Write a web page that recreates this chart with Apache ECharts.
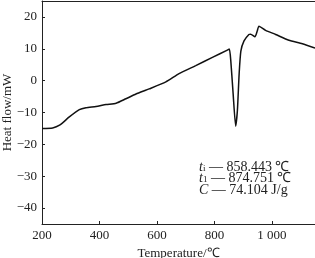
<!DOCTYPE html>
<html>
<head>
<meta charset="utf-8">
<script src="https://cdn.jsdelivr.net/npm/echarts@6/dist/echarts.min.js"></script>
<style>html,body{margin:0;padding:0;background:#fff;}#c{width:315px;height:258px;}</style>
</head>
<body>
<div id="c"></div>
<script>
var temps = [200, 237, 261, 295, 330, 353, 388, 423, 458, 492, 527, 573, 631, 677, 735, 793, 845, 852, 857, 865, 874, 880, 886, 892, 903, 920, 926, 941, 949, 955, 978, 1013, 1059, 1106, 1150];
var heatFlow = [-15, -14.85, -14.0, -11.4, -9.1, -8.5, -8.1, -7.5, -7.1, -5.7, -4.2, -2.6, -0.4, 2.2, 4.7, 7.3, 9.6, 9.9, 6.2, -4, -14.3, -9.3, 2.1, 9.3, 12.5, 14.5, 14.6, 13.8, 15.6, 17.1, 15.8, 14.5, 12.7, 11.6, 10.2];
var xTicks = [200, 400, 600, 800, 1000];
var yTicks = [-40, -30, -20, -10, 0, 10, 20];
var notes = [
  ['t', 'i', '858.443 ℃'],
  ['t', '1', '874.751 ℃'],
  ['C', '', '74.104 J/g']
];

var pts = temps.map(function (t, i) { return [t, heatFlow[i]]; });
var font = 'Liberation Serif';
var noteText = notes.map(function (n) {
  return '{it|' + n[0] + '}' + (n[1] ? '{sub|' + n[1] + '}' : '') + '{n| — ' + n[2] + '}';
}).join('\n');

var chart = echarts.init(document.getElementById('c'));
chart.setOption({
  animation: false,
  backgroundColor: '#fff',
  grid: { left: 42, right: 0, top: 1, bottom: 34, containLabel: false, outerBoundsMode: 'none' },
  xAxis: [{
    type: 'value', min: 200, max: 1150, interval: 200,
    name: 'Temperature/℃', nameLocation: 'middle', nameGap: 20,
    nameTextStyle: { fontFamily: font, fontSize: 13, color: '#222' },
    axisLine: { show: true, onZero: false, lineStyle: { color: '#222', width: 1 } },
    axisTick: { show: true, inside: true, length: 3, lineStyle: { color: '#222' } },
    axisLabel: {
      fontFamily: font, fontSize: 13, color: '#222', margin: 5,
      showMaxLabel: false,
      formatter: function (v) { return xTicks.indexOf(v) < 0 ? '' : (v >= 1000 ? '1 000' : String(v)); }
    },
    splitLine: { show: false }
  }, {
    type: 'value', position: 'top', min: 200, max: 1150,
    axisLine: { show: true, onZero: false, lineStyle: { color: '#222', width: 1 } },
    axisTick: { show: false }, axisLabel: { show: false }, splitLine: { show: false }
  }],
  yAxis: {
    type: 'value', min: -45, max: 25, splitNumber: 7,
    name: 'Heat flow/mW', nameLocation: 'middle', nameGap: 28, nameMoveOverlap: false,
    nameTextStyle: { fontFamily: font, fontSize: 13, color: '#222' },
    axisLine: { show: true, onZero: false, lineStyle: { color: '#222', width: 1 } },
    axisTick: { show: true, inside: true, length: 3, lineStyle: { color: '#222' } },
    axisLabel: {
      fontFamily: font, fontSize: 13, color: '#222', margin: 5,
      showMinLabel: false, showMaxLabel: false,
      formatter: function (v) { return yTicks.indexOf(v) < 0 ? '' : (v < 0 ? '\u2212' + (-v) : String(v)); }
    },
    splitLine: { show: false }
  },
  series: [{
    type: 'line', data: pts, showSymbol: false, smooth: 0.2,
    lineStyle: { color: '#111', width: 1.5 }
  }],
  graphic: [{
    type: 'text', left: 199, top: 160,
    style: {
      text: noteText, fill: '#222', font: '14px ' + font, lineHeight: 11.5,
      rich: {
        it: { fontFamily: font, fontSize: 14, fontStyle: 'italic', fill: '#222', lineHeight: 11.5 },
        sub: { fontFamily: font, fontSize: 9, fill: '#222', verticalAlign: 'bottom', lineHeight: 11.5 },
        n: { fontFamily: font, fontSize: 14, fill: '#222', lineHeight: 11.5 }
      }
    }
  }]
});
</script>
</body>
</html>
